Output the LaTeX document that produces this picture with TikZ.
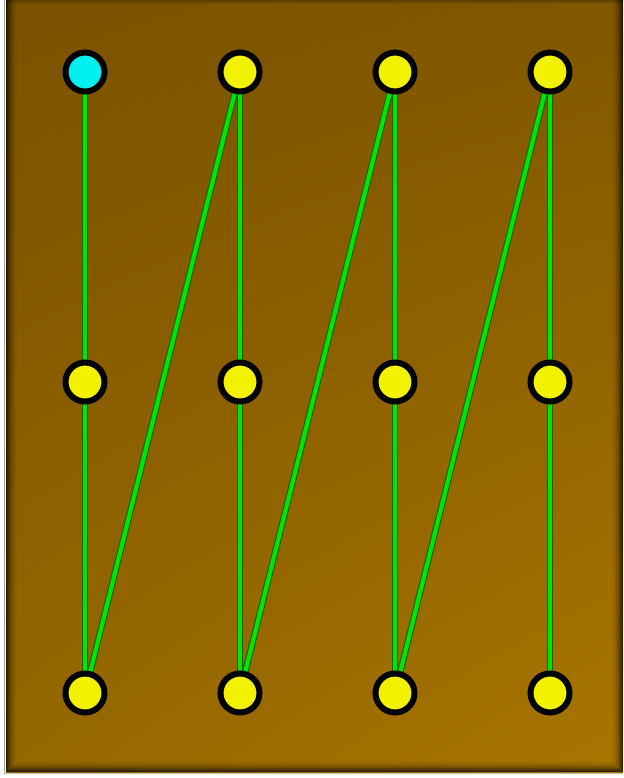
\documentclass[tikz,border=0pt]{standalone}
\usetikzlibrary{shadings}
\definecolor{bgdark}{HTML}{7A5200}
\definecolor{bglight}{HTML}{A87600}
\definecolor{edgegreen}{HTML}{00E600}
\definecolor{edgedark}{HTML}{1E6000}
\definecolor{vyellow}{HTML}{F2F200}
\definecolor{vcyan}{HTML}{00F0F0}
\pgfdeclarelayer{bglayer}
\pgfdeclarelayer{linklayer}
\pgfsetlayers{bglayer,linklayer,main}
\tikzset{
  vtx/.style={circle, draw=black, line width=6pt, minimum size=39pt, inner sep=0pt, fill=vyellow},
  startvtx/.style={vtx, fill=vcyan},
  linkouter/.style={draw=edgedark, line width=6.5pt},
  linkinner/.style={draw=edgegreen, line width=4.2pt},
}
\begin{document}
\begin{tikzpicture}[x=1pt,y=-1pt]
\useasboundingbox (0,0) rectangle (623,778);
\begin{pgfonlayer}{bglayer}
\clip (0,0) rectangle (623,778);
\fill[white] (0,0) rectangle (623,778);
\draw[gray!70, line width=1.2pt] (4.5,0) -- (4.5,774);
\draw[gray!50, line width=1pt] (5,773.5) -- (623,773.5);
\shade[upper left=bgdark, lower right=bglight, upper right=bgdark!85!bglight, lower left=bgdark!40!bglight] (6,-2) rectangle (626,772);
\foreach \i in {0,...,11}{
  \pgfmathsetmacro{\op}{0.7*(1-\i/12)^2}
  \draw[black, opacity=\op, line width=1pt] (6.5+\i,-5) -- (6.5+\i,771.5-\i) -- (622.5-\i,771.5-\i) -- (622.5-\i,-5);
}
\foreach \i in {0,...,3}{
  \pgfmathsetmacro{\op}{0.25*(1-\i/4)}
  \draw[black, opacity=\op, line width=1pt] (6,0.5+\i) -- (623,0.5+\i);
}
\end{pgfonlayer}
% nodes
\node[startvtx] (a1) at (85,72) {};
\node[vtx] (a2) at (85,382) {};
\node[vtx] (a3) at (85,693) {};
\node[vtx] (b1) at (240,72) {};
\node[vtx] (b2) at (240,382) {};
\node[vtx] (b3) at (240,693) {};
\node[vtx] (c1) at (395,72) {};
\node[vtx] (c2) at (395,382) {};
\node[vtx] (c3) at (395,693) {};
\node[vtx] (d1) at (550,72) {};
\node[vtx] (d2) at (550,382) {};
\node[vtx] (d3) at (550,693) {};
% connectors
\begin{pgfonlayer}{linklayer}
\foreach \s/\t in {a1/a2,a2/a3,a3/b1,b1/b2,b2/b3,b3/c1,c1/c2,c2/c3,c3/d1,d1/d2,d2/d3}{
  \path[linkouter] (\s.center) -- (\t.center);
  \path[linkinner] (\s.center) -- (\t.center);
}
\end{pgfonlayer}
\end{tikzpicture}
\end{document}
